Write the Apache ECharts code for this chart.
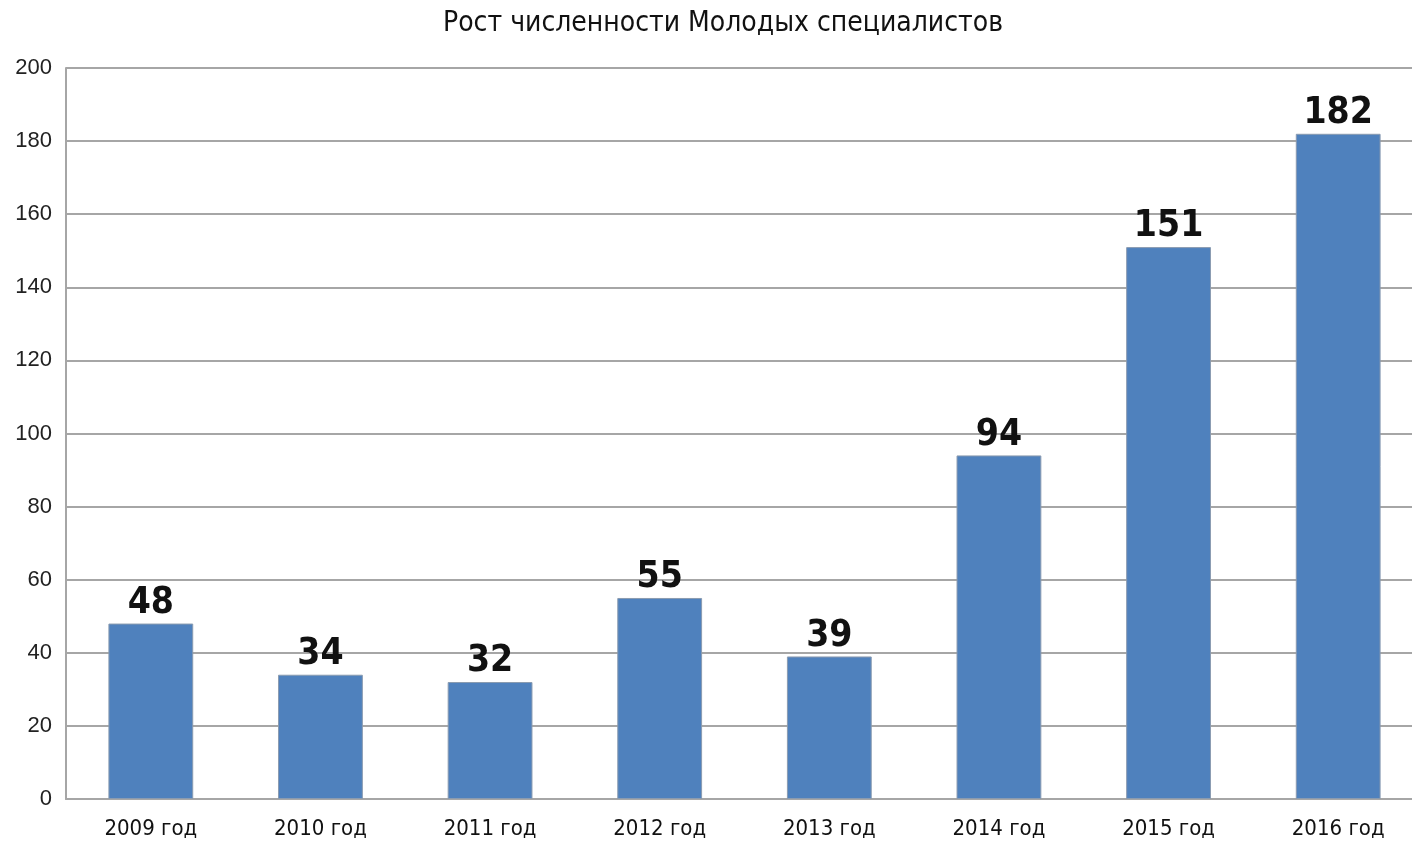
<!DOCTYPE html>
<html><head><meta charset="utf-8">
<script src="https://cdn.jsdelivr.net/npm/echarts@6/dist/echarts.min.js"></script>
<style>html,body{margin:0;padding:0;background:#fff}#c{width:1412px;height:843px}</style>
</head><body><div id="c"></div>
<script>
const title = 'Рост численности Молодых специалистов';
const categories = ['2009 год','2010 год','2011 год','2012 год','2013 год','2014 год','2015 год','2016 год'];
const values = [48, 34, 32, 55, 39, 94, 151, 182];
const NARROW = '"Liberation Sans Narrow", "DejaVu Sans Condensed", sans-serif';
const FONT = '"Liberation Sans", Arial, sans-serif';
const chart = echarts.init(document.getElementById('c'), null, {renderer:'canvas'});
chart.setOption({
  animation: false,
  backgroundColor: '#fff',
  title: { text: title, left: 718, textAlign: 'center', top: 5,
    textStyle: { fontFamily: NARROW, fontSize: 28, fontWeight: 'normal', color: '#111' } },
  grid: { left: 66, width: 1357, top: 68, bottom: 44, containLabel: false, outerBoundsMode: 'none' },
  xAxis: { type: 'category', data: categories,
    axisLine: { show: true, lineStyle: { color: '#a6a6a6', width: 2 } },
    axisTick: { show: false },
    axisLabel: { margin: 19, fontFamily: NARROW, fontSize: 22, color: '#111' } },
  yAxis: { type: 'value', min: 0, max: 200, interval: 20,
    axisLine: { show: true, lineStyle: { color: '#a6a6a6', width: 2 } },
    axisTick: { show: false },
    axisLabel: { margin: 14, fontFamily: FONT, fontSize: 22, color: '#222' },
    splitLine: { lineStyle: { color: '#a6a6a6', width: 2 } } },
  series: [{ type: 'bar', data: values, barWidth: '50%',
    itemStyle: { color: '#4f81bd', borderColor: '#8a9bb0', borderWidth: 1 },
    label: { show: true, position: 'top', distance: 2, fontFamily: NARROW,
      fontSize: 37, fontWeight: 'bold', color: '#111' } }]
});
</script></body></html>
